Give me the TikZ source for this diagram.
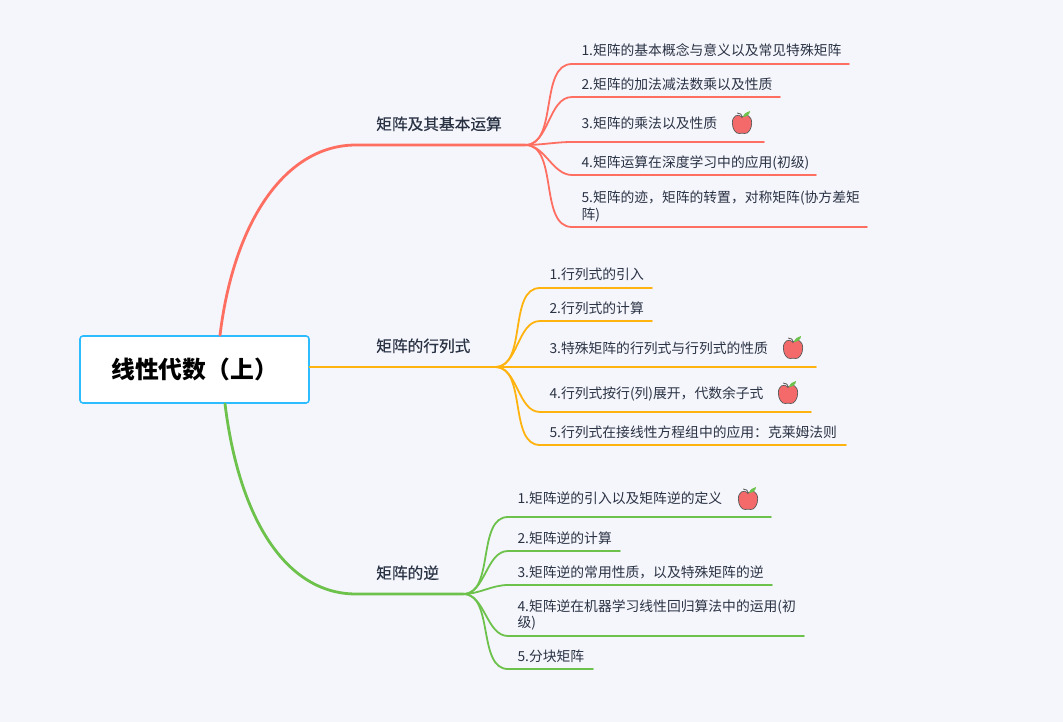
\documentclass[tikz,border=0pt]{standalone}
\usepackage{fontspec}
\setmainfont{Noto Sans CJK SC}
\newfontfamily\midfont[FakeBold=0.4]{Noto Sans CJK SC}
\usetikzlibrary{calc}
\definecolor{bgcol}{HTML}{F5F5FC}
\definecolor{textcol}{HTML}{2A3344}
\definecolor{redcol}{HTML}{FF6F61}
\definecolor{yellowcol}{HTML}{FFB30F}
\definecolor{greencol}{HTML}{6CC24A}
\definecolor{bluecol}{HTML}{2CBCFF}
\definecolor{applecol}{HTML}{F46A6A}
\tikzset{
    rootbox/.style={draw=bluecol,fill=white,line width=1.6pt,rounded corners=3pt,minimum width=229pt,minimum height=67pt,inner sep=0pt,font=\fontsize{23.8}{26}\selectfont\bfseries,text=black},
    topic/.style={anchor=south west,inner xsep=20pt,inner ysep=12pt,text height=11pt,text depth=3pt,align=left,text=textcol,font=\fontsize{15.7}{18}\midfont},
    leaf/.style={anchor=south west,inner xsep=9.5pt,outer sep=0pt,text depth=3pt,text height=11pt,align=left,text=textcol,font=\fontsize{13.8}{18}\selectfont},
    mainline/.style={line width=2.8pt,line cap=round},
    leafline/.style={line width=1.8pt,line cap=round},
    apple/.pic={
        \fill[applecol,draw=black!65,line width=0.7pt,xscale=0.88] (0,-6) .. controls (5,-10) and (11,-7) .. (11,0) .. controls (11,6) and (7,11) .. (3,10.5) .. controls (1,10) and (-1,10) .. (-3,10.5) .. controls (-7,11) and (-11,6) .. (-11,0) .. controls (-11,-7) and (-5,-10) .. (0,-6) -- cycle;
        \draw[black!65,line width=0.8pt] (0,-5) .. controls (0,-9) and (-2,-10) .. (-5,-10);
        \fill[greencol] (1,-6) .. controls (2,-10) and (5,-11) .. (8,-12) .. controls (8,-9) and (5,-6) .. (1,-6) -- cycle;
    }
}
\begin{document}
\begin{tikzpicture}[x=1pt,y=-1pt]
    \useasboundingbox[fill=bgcol] (0,0) rectangle (1063,722);
    \node[rootbox] (root) at (194.5,369.5) {线性代数（上）};
    \node[topic,text width=129pt] (t1) at (356,145) {矩阵及其基本运算};
    \node[topic,text width=99pt] (t2) at (356,367) {矩阵的行列式};
    \node[topic,text width=67pt] (t3) at (356,594) {矩阵的逆};
    % main branches
    \draw[mainline,redcol] ($(root.north)+(25.5,0)$) .. controls +(14,-115) and +(-70,0) .. (t1.south west) -- (t1.south east);
    \draw[mainline,yellowcol] ($(root.east)+(0,-2.5)$) -- (t2.south west) -- (t2.south east);
    \draw[mainline,greencol] ($(root.south)+(30.5,0)$) .. controls +(14,115) and +(-70,0) .. (t3.south west) -- (t3.south east);
    % first group
    \foreach \n/\y/\e/\g/\t in {
        1/64/849/5.8/{1.矩阵的基本概念与意义以及常见特殊矩阵},
        2/97/780/4.8/{2.矩阵的加法减法数乘以及性质},
        3/142/764/10.8/{3.矩阵的乘法以及性质},
        4/175/816/4.3/{4.矩阵运算在深度学习中的应用(初级)},
        5/227/867/21/{5.矩阵的迹，矩阵的转置，对称矩阵(协方差矩\\[-1.5pt]阵)}} {
        \node[leaf,inner ysep=\g pt,text width={(\e-572-19)*1pt}] (a\n) at (572,\y) {\t};
        \draw[leafline,redcol] (t1.south east) to[out=0,in=180,looseness=0.9] (a\n.south west) -- (a\n.south east);
    }
    % second group
    \foreach \n/\y/\e/\g/\t in {
        1/288/652/5.8/{1.行列式的引入},
        2/321/652/4.8/{2.行列式的计算},
        3/367/816/10.8/{3.特殊矩阵的行列式与行列式的性质},
        4/412/811/10.8/{4.行列式按行(列)展开，代数余子式},
        5/445/846/4.8/{5.行列式在接线性方程组中的应用：克莱姆法则}} {
        \node[leaf,inner ysep=\g pt,text width={(\e-540-19)*1pt}] (b\n) at (540,\y) {\t};
        \draw[leafline,yellowcol] (t2.south east) to[out=0,in=180,looseness=0.9] (b\n.south west) -- (b\n.south east);
    }
    % third group
    \foreach \n/\y/\e/\g/\t in {
        1/517/771/10.8/{1.矩阵逆的引入以及矩阵逆的定义},
        2/551/620/4.8/{2.矩阵逆的计算},
        3/585/772/4.8/{3.矩阵逆的常用性质，以及特殊矩阵的逆},
        4/636/804/22/{4.矩阵逆在机器学习线性回归算法中的运用(初\\[-2pt]级)},
        5/669/593/4.8/{5.分块矩阵}} {
        \node[leaf,inner ysep=\g pt,text width={(\e-508-19)*1pt}] (c\n) at (508,\y) {\t};
        \draw[leafline,greencol] (t3.south east) to[out=0,in=180,looseness=0.9] (c\n.south west) -- (c\n.south east);
    }
    \pic at (742,123) {apple};
    \pic at (793,348) {apple};
    \pic at (788,393) {apple};
    \pic at (748,499) {apple};
\end{tikzpicture}
\end{document}
